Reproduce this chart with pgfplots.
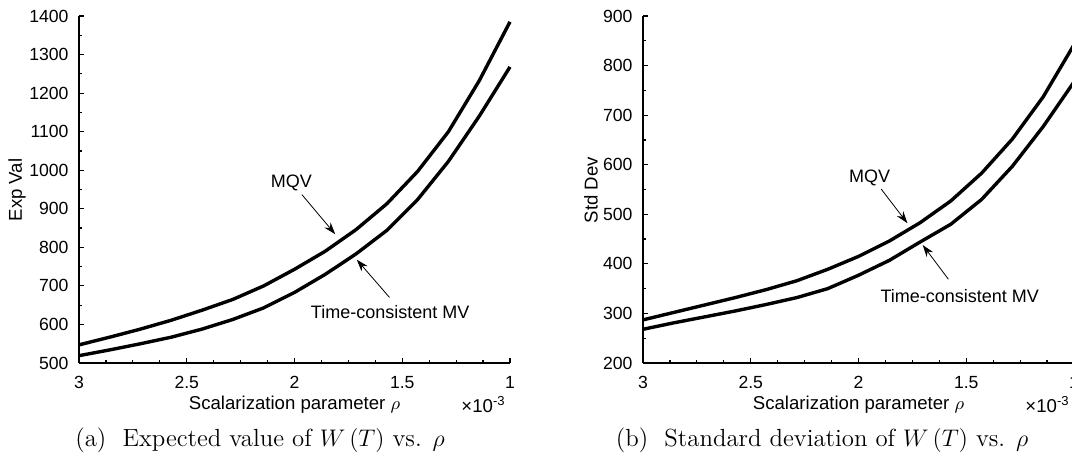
\documentclass[border=0pt]{standalone}
\usepackage{fontspec}
\usepackage{pgfplots}
\pgfplotsset{compat=1.18}
\usetikzlibrary{arrows.meta}
\newfontfamily\arial{Liberation Sans}

% 1 px of the reference = 0.5pt
\pgfplotsset{
  panel/.style={
    scale only axis, width=215.5pt, height=173.5pt,
    axis lines=left, axis line style={line width=0.6pt, -},
    x dir=reverse, xmin=1, xmax=3,
    xtick={1,1.5,2,2.5,3}, minor x tick num=3,
    minor y tick num=1,
    tick align=inside,
    major tick length=2.5pt, minor tick length=1.5pt,
    every tick/.style={line width=0.6pt, black},
    tick label style={font=\arial\fontsize{8.8}{10}\selectfont},
    /pgf/number format/assume math mode=true,
    /pgf/number format/1000 sep={},
    xticklabel style={yshift=-3pt},
    yticklabel style={xshift=-1.7pt},
    xlabel={Scalarization parameter $\rho$},
    xlabel style={font=\arial\fontsize{9.3}{11}\selectfont,
      at={(axis description cs:0.5,0)}, anchor=base, yshift=-23.5pt},
    clip=false,
  },
  curve/.style={black, line width=1.7pt, line join=miter},
}
\tikzset{
  note/.style={font=\arial\fontsize{9}{11}\selectfont},
  arr/.style={line width=0.4pt, -{Stealth[length=6pt, width=4pt]}},
}

\pgfplotstableread{
rho    mqv   tcmv
1.0000 1385  1268
1.1429 1232  1140
1.2857 1100  1023
1.4286  997   924
1.5714  913   844
1.7143  846   783
1.8571  790   730
2.0000  743   683
2.1429  700   643
2.2857  665   613
2.4286  637   588
2.5714  611   567
2.7143  588   550
2.8571  567   534
3.0000  547   519
}\expval

\pgfplotstableread{
rho    mqv   tcmv
1.0000  842   767
1.1429  737   677
1.2857  652   597
1.4286  583   530
1.5714  527   480
1.7143  483   444
1.8571  446   407
2.0000  415   377
2.1429  389   350
2.2857  366   332
2.4286  348   318
2.5714  332   305
2.7143  317   293
2.8571  302   281
3.0000  287   268
}\stddev

\begin{document}
\begin{tikzpicture}

\begin{axis}[panel, at={(39.5pt,49pt)}, anchor=south west,
    ymin=500, ymax=1400, ytick={500,600,...,1400}]
  \addplot[curve] table[x=rho, y=mqv] {\expval};
  \addplot[curve] table[x=rho, y=tcmv] {\expval};
  \node[note] at (axis cs:2.014,967) {MQV};
  \draw[arr] (axis cs:1.966,937) -- (axis cs:1.811,834);
  \node[note] at (axis cs:1.556,631) {Time-consistent MV};
  \draw[arr] (axis cs:1.559,670) -- (axis cs:1.711,768);
\end{axis}

\begin{axis}[panel, at={(321.5pt,49pt)}, anchor=south west,
    ymin=200, ymax=900, ytick={200,300,...,900}]
  \addplot[curve] table[x=rho, y=mqv] {\stddev};
  \addplot[curve] table[x=rho, y=tcmv] {\stddev};
  \node[note] at (axis cs:1.948,573) {MQV};
  \draw[arr] (axis cs:1.895,551) -- (axis cs:1.773,482);
  \node[note] at (axis cs:1.53,335) {Time-consistent MV};
  \draw[arr] (axis cs:1.583,369) -- (axis cs:1.702,438);
\end{axis}

% y labels
\node[rotate=90, font=\arial\fontsize{9.3}{11}\selectfont] at (8.5pt,135.5pt) {Exp Val};
\node[rotate=90, font=\arial\fontsize{9.3}{11}\selectfont] at (295.5pt,135.5pt) {Std Dev};

% scale factor of the x axis
\node[anchor=base east, inner sep=0pt, font=\arial\fontsize{9.3}{11}\selectfont] at (253pt,24pt) {×10\textsuperscript{-3}};
\node[anchor=base east, inner sep=0pt, font=\arial\fontsize{9.3}{11}\selectfont] at (535pt,24pt) {×10\textsuperscript{-3}};

% captions
\node[anchor=base, inner sep=0pt, font=\fontsize{12.4}{14}\selectfont] at (130pt,7.5pt)
  {(a)~ Expected value of $W\left(T\right)$ vs. $\rho$};
\node[anchor=base, inner sep=0pt, font=\fontsize{12.4}{14}\selectfont] at (411pt,7.5pt)
  {(b)~ Standard deviation of $W\left(T\right)$ vs. $\rho$};

\pgfresetboundingbox
\path[use as bounding box] (0,0) rectangle (536pt,230.5pt);
\end{tikzpicture}
\end{document}
